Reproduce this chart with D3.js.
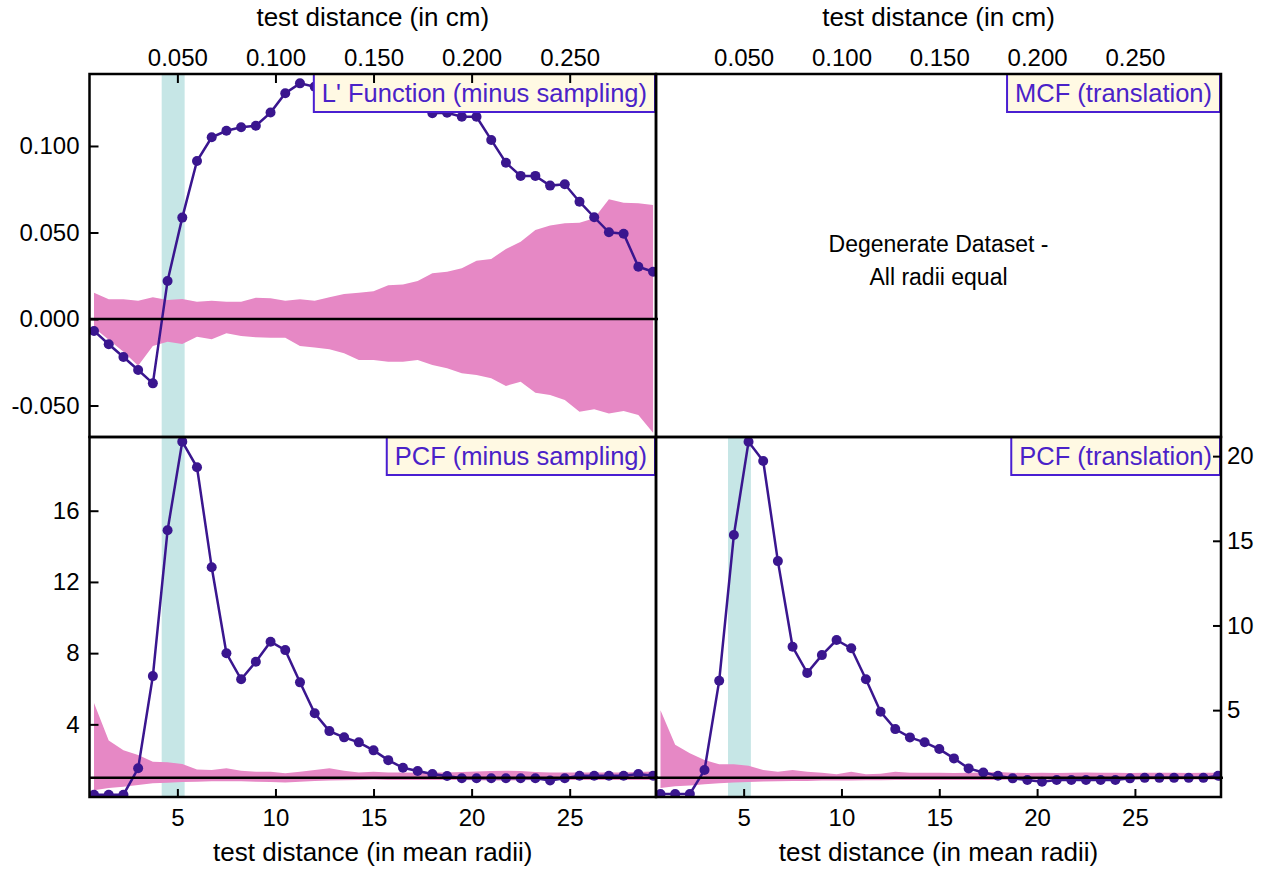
<!DOCTYPE html>
<html lang="en">
<head>
<meta charset="UTF-8">
<title>L' function and PCF panels</title>
<script src="https://d3js.org/d3.v7.min.js"></script>
<style>
  body { margin: 0; background: #fff; }
  svg { display: block; font-family: Arial, "Liberation Sans", sans-serif; }
  .axis text { font-size: 24px; fill: #000; }
  .axis line { stroke: #000; stroke-width: 2; }
  .axis path { display: none; }
  .frame { fill: none; stroke: #000; stroke-width: 2.5; }
  .title { font-size: 26px; fill: #000; }
  .legend text { font-size: 25.5px; fill: #4a22c8; }
  .legend rect { fill: #fff9e3; stroke: #4a1fd1; stroke-width: 2; }
</style>
</head>
<body>
<svg width="1269" height="869"></svg>
<script>
// test distances (mean radii)
const distRadii = [0.75, 1.5, 2.25, 3, 3.75, 4.5, 5.25, 6, 6.75, 7.5,
  8.25, 9, 9.75, 10.5, 11.25, 12, 12.75, 13.5, 14.25, 15,
  15.75, 16.5, 17.25, 18, 18.75, 19.5, 20.25, 21, 21.75, 22.5,
  23.25, 24, 24.75, 25.5, 26.25, 27, 27.75, 28.5, 29.25];

// L' function (minus sampling) and its envelope
const lFunc = [-0.0069, -0.0146, -0.022, -0.0295, -0.0372, 0.022, 0.0586, 0.0913, 0.105, 0.1088,
  0.1108, 0.1117, 0.1193, 0.1305, 0.1362, 0.1343, 0.134, 0.134, 0.133, 0.132,
  0.131, 0.13, 0.128, 0.1189, 0.1192, 0.1169, 0.1169, 0.1035, 0.0903, 0.0827,
  0.0827, 0.0771, 0.0779, 0.0678, 0.0588, 0.0501, 0.0493, 0.0302, 0.0273];
const lFuncHi = [0.0152, 0.0114, 0.0114, 0.0106, 0.0125, 0.011, 0.0116, 0.010, 0.0106, 0.010,
  0.010, 0.0123, 0.012, 0.0106, 0.0114, 0.0106, 0.0125, 0.0145, 0.0152, 0.016,
  0.0195, 0.020, 0.022, 0.0264, 0.0273, 0.0293, 0.0337, 0.0347, 0.0405, 0.0447,
  0.0514, 0.054, 0.0553, 0.0557, 0.0582, 0.0692, 0.0672, 0.0669, 0.0659];
const lFuncLo = [-0.005, -0.012, -0.019, -0.027, -0.0156, -0.0131, -0.0145, -0.0102, -0.0117, -0.0083,
  -0.0098, -0.0106, -0.0108, -0.0108, -0.0156, -0.0164, -0.0175, -0.0198, -0.0237, -0.0237,
  -0.0247, -0.0247, -0.0237, -0.0266, -0.0285, -0.0314, -0.0324, -0.0343, -0.0387, -0.0362,
  -0.0426, -0.0439, -0.0468, -0.0536, -0.0522, -0.0546, -0.0532, -0.0555, -0.0657];

// PCF (minus sampling)
const pcfMinus = [0.05, 0.05, 0.05, 1.53, 6.71, 14.9, 19.88, 18.44, 12.82, 7.99,
  6.53, 7.52, 8.64, 8.17, 6.36, 4.62, 3.62, 3.27, 2.99, 2.54,
  1.99, 1.56, 1.38, 1.21, 1.10, 0.97, 0.97, 0.97, 0.97, 0.97,
  0.97, 0.85, 0.97, 1.11, 1.11, 1.11, 1.11, 1.21, 1.11];
const pcfMinusHi = [5.2, 3.1, 2.55, 2.28, 1.9, 1.87, 1.77, 1.47, 1.43, 1.53,
  1.39, 1.34, 1.34, 1.25, 1.34, 1.43, 1.53, 1.39, 1.3, 1.34,
  1.3, 1.3, 1.28, 1.3, 1.3, 1.33, 1.35, 1.38, 1.4, 1.38,
  1.32, 1.3, 1.3, 1.3, 1.3, 1.3, 1.3, 1.32, 1.35];
const pcfMinusLo = [0.3, 0.42, 0.49, 0.59, 0.69, 0.72, 0.76, 0.78, 0.8, 0.81,
  0.8, 0.78, 0.76, 0.74, 0.78, 0.82, 0.85, 0.86, 0.88, 0.9,
  0.88, 0.88, 0.88, 0.87, 0.88, 0.88, 0.86, 0.85, 0.85, 0.86,
  0.87, 0.88, 0.88, 0.88, 0.88, 0.87, 0.87, 0.87, 0.88];

// PCF (translation)
const pcfTrans = [0.05, 0.05, 0.05, 1.46, 6.73, 15.34, 20.85, 19.71, 13.8, 8.74,
  7.2, 8.25, 9.14, 8.65, 6.82, 4.9, 3.88, 3.39, 3.1, 2.7,
  2.15, 1.56, 1.32, 1.12, 0.97, 0.87, 0.77, 0.87, 0.87, 0.87,
  0.87, 0.87, 0.97, 1.0, 1.0, 1.0, 1.0, 1.0, 1.12];
const pcfTransHi = [5.0, 2.95, 2.45, 2.05, 1.8, 1.8, 1.71, 1.46, 1.36, 1.46,
  1.36, 1.3, 1.22, 1.36, 1.22, 1.25, 1.36, 1.3, 1.3, 1.3,
  1.28, 1.3, 1.32, 1.35, 1.3, 1.28, 1.3, 1.28, 1.3, 1.32,
  1.3, 1.3, 1.28, 1.3, 1.3, 1.3, 1.28, 1.3, 1.3];
const pcfTransLo = [0.4, 0.5, 0.55, 0.62, 0.68, 0.72, 0.76, 0.78, 0.8, 0.82,
  0.82, 0.84, 0.85, 0.85, 0.86, 0.86, 0.87, 0.88, 0.88, 0.88,
  0.88, 0.88, 0.88, 0.88, 0.9, 0.9, 0.9, 0.9, 0.9, 0.9,
  0.9, 0.9, 0.9, 0.9, 0.9, 0.9, 0.9, 0.9, 0.9];

const band = [4.2, 5.37];          // highlighted distance range (mean radii)
const cmPerRadius = 0.01;
const cmTicks = [0.05, 0.1, 0.15, 0.2, 0.25];
const radiiTicks = [5, 10, 15, 20, 25];
const lTicks = [-0.05, 0, 0.05, 0.1];
const pcfMinusTicks = [4, 8, 12, 16];
const pcfTransTicks = [5, 10, 15, 20];

const svg = d3.select("svg");
const xL = 89.5, xM = 656, xR = 1221, yT = 74, yM = 437, yB = 797;
const xDomain = [0.52, 29.4];
const fmt3 = d => d3.format(".3f")(d).replace("\u2212", "-");

const xLeft = d3.scaleLinear().domain(xDomain).range([xL, xM]);
const xRight = d3.scaleLinear().domain(xDomain).range([xM, xR]);
const cmLeft = d3.scaleLinear().domain(xDomain.map(d => d * cmPerRadius)).range([xL, xM]);
const cmRight = d3.scaleLinear().domain(xDomain.map(d => d * cmPerRadius)).range([xM, xR]);

const yL = d3.scaleLinear().domain([-0.0682, 0.1416]).range([yM, yT]);
const yPm = d3.scaleLinear().domain([-0.08, 20.14]).range([yB, yM]);
const yPt = d3.scaleLinear().domain([-0.13, 21.13]).range([yB, yM]);

const defs = svg.append("defs");

function panel(id, x, y, vals, lo, hi, ref, label) {
  const [x0, x1] = x.range(), [y1, y0] = y.range();
  defs.append("clipPath").attr("id", id)
    .append("rect").attr("x", x0).attr("y", y0).attr("width", x1 - x0).attr("height", y1 - y0);
  const g = svg.append("g");
  const c = g.append("g").attr("clip-path", `url(#${id})`);

  c.append("rect")
    .attr("x", x(band[0])).attr("width", x(band[1]) - x(band[0]))
    .attr("y", y0).attr("height", y1 - y0)
    .attr("fill", "#c6e6e6");

  const rows = distRadii.map((d, i) => ({ d, v: vals[i], lo: lo[i], hi: hi[i] }));
  c.append("path").datum(rows)
    .attr("fill", "#e688c5")
    .attr("d", d3.area().x(r => x(r.d)).y0(r => y(r.lo)).y1(r => y(r.hi)));

  g.append("line")
    .attr("x1", x0).attr("x2", x1 + 2).attr("y1", y(ref)).attr("y2", y(ref))
    .attr("stroke", "#000").attr("stroke-width", 2.5);

  c.append("path").datum(rows)
    .attr("fill", "none").attr("stroke", "#3a168f").attr("stroke-width", 2.5)
    .attr("d", d3.line().x(r => x(r.d)).y(r => y(r.v)));
  c.selectAll("circle").data(rows).join("circle")
    .attr("cx", r => x(r.d)).attr("cy", r => y(r.v)).attr("r", 5)
    .attr("fill", "#3a168f");

  legend(x1, y0, label);
  return g;
}

function legend(xr, yt, label) {
  const g = svg.append("g").attr("class", "legend");
  const r = g.append("rect");
  const t = g.append("text").attr("x", xr - 9).attr("y", yt + 28)
    .attr("text-anchor", "end").text(label);
  const w = t.node().getComputedTextLength() + 17;
  r.attr("x", xr - w).attr("y", yt).attr("width", w - 1).attr("height", 38);
}

panel("cTL", xLeft, yL, lFunc, lFuncLo, lFuncHi, 0, "L' Function (minus sampling)");
panel("cBL", xLeft, yPm, pcfMinus, pcfMinusLo, pcfMinusHi, 1, "PCF (minus sampling)");
panel("cBR", xRight, yPt, pcfTrans, pcfTransLo, pcfTransHi, 1, "PCF (translation)");
legend(xR, yT, "MCF (translation)");

svg.append("text").attr("class", "title")
  .attr("x", (xM + xR) / 2).attr("y", 252).attr("text-anchor", "middle")
  .style("font-size", "23px").text("Degenerate Dataset -");
svg.append("text").attr("class", "title")
  .attr("x", (xM + xR) / 2).attr("y", 285).attr("text-anchor", "middle")
  .style("font-size", "23px").text("All radii equal");

// axes
svg.append("g").attr("class", "axis").attr("transform", `translate(0,${yT})`)
  .call(d3.axisTop(cmLeft).tickValues(cmTicks).tickFormat(fmt3).tickSize(-9).tickPadding(8));
svg.append("g").attr("class", "axis").attr("transform", `translate(0,${yT})`)
  .call(d3.axisTop(cmRight).tickValues(cmTicks).tickFormat(fmt3).tickSize(0).tickPadding(8));
svg.append("g").attr("class", "axis").attr("transform", `translate(0,${yB})`)
  .call(d3.axisBottom(xLeft).tickValues(radiiTicks).tickSize(-8).tickPadding(12));
svg.append("g").attr("class", "axis").attr("transform", `translate(0,${yB})`)
  .call(d3.axisBottom(xRight).tickValues(radiiTicks).tickSize(-8).tickPadding(12));
svg.append("g").attr("class", "axis").attr("transform", `translate(${xL},0)`)
  .call(d3.axisLeft(yL).tickValues(lTicks).tickFormat(fmt3).tickSize(-9).tickPadding(10));
svg.append("g").attr("class", "axis").attr("transform", `translate(${xL},0)`)
  .call(d3.axisLeft(yPm).tickValues(pcfMinusTicks).tickSize(-9).tickPadding(10));
svg.append("g").attr("class", "axis").attr("transform", `translate(${xR},0)`)
  .call(d3.axisRight(yPt).tickValues(pcfTransTicks).tickSize(-8).tickPadding(6));

// frames
[[xL, yT, xM, yM], [xM, yT, xR, yM], [xL, yM, xM, yB], [xM, yM, xR, yB]]
  .forEach(([a, b, c, d]) => svg.append("rect").attr("class", "frame")
    .attr("x", a).attr("y", b).attr("width", c - a).attr("height", d - b));

svg.append("text").attr("class", "title").attr("x", (xL + xM) / 2).attr("y", 26)
  .attr("text-anchor", "middle").text("test distance (in cm)");
svg.append("text").attr("class", "title").attr("x", (xM + xR) / 2).attr("y", 26)
  .attr("text-anchor", "middle").text("test distance (in cm)");
svg.append("text").attr("class", "title").attr("x", (xL + xM) / 2).attr("y", 861)
  .attr("text-anchor", "middle").text("test distance (in mean radii)");
svg.append("text").attr("class", "title").attr("x", (xM + xR) / 2).attr("y", 861)
  .attr("text-anchor", "middle").text("test distance (in mean radii)");
</script>
</body>
</html>
